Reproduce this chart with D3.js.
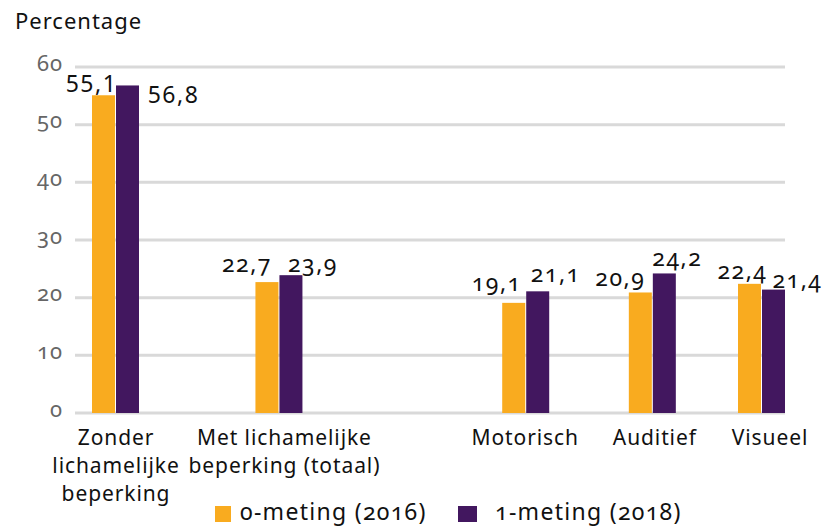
<!DOCTYPE html>
<html><head><meta charset="utf-8">
<script src="https://cdn.jsdelivr.net/npm/d3@7"></script>
<style>
body{margin:0;background:#fff;}
svg text{font-family:"Noto Sans","Open Sans",sans-serif !important;font-variant-numeric:oldstyle-nums;font-feature-settings:"onum" 1;}
svg text.lining{font-variant-numeric:lining-nums;font-feature-settings:"lnum" 1;}
</style></head><body>
<svg id="chart" width="824" height="526"></svg>
<script>
// ---- data ----
const categories = [
  ["Zonder","lichamelijke","beperking"],
  ["Met lichamelijke","beperking (totaal)"],
  ["Motorisch"],
  ["Auditief"],
  ["Visueel"]
];
const seriesNames = ["0-meting (2016)", "1-meting (2018)"];
const meting2016 = [55.1, 22.7, 19.1, 20.9, 22.4];
const meting2018 = [56.8, 23.9, 21.1, 24.2, 21.4];
const yTicks = [0, 10, 20, 30, 40, 50, 60];
const yTitle = "Percentage";

// ---- layout ----
const colors = ["#F9AB1F", "#42175F"];
const catSlot = [0, 2.53, 6.35, 8.31, 10];          // horizontal slot of each category group
const catLabelNudge = [1, 6, 0, 3, 9];
const valLabelNudge = [ // [dx, dy] relative to default label spot
  [[-12, 1], [46, 22]],
  [[-20, -6], [22, 1]],
  [[-17, -8], [18, -5]],
  [[-20, -2], [13, -3]],
  [[-7, -1], [24, 2]]
];
const barW = 23;

const svg = d3.select("#chart");
const y = d3.scaleLinear().domain([0, 60]).range([413, 67]);
const x = d3.scaleLinear().domain([0, 10]).range([115, 761]);
const fmt = v => String(v).replace(".", ",");

// gridlines
svg.append("g").selectAll("line").data(yTicks).join("line")
  .attr("x1", 75).attr("x2", 785)
  .attr("y1", d => y(d)).attr("y2", d => y(d))
  .attr("stroke", "#d9d9d9").attr("stroke-width", 3);

// y axis labels via d3 axis
const yAxis = d3.axisLeft(y).tickValues(yTicks).tickSize(0).tickPadding(0).tickFormat(d => d);
const ga = svg.append("g").attr("transform", "translate(63,0)").call(yAxis);
ga.select(".domain").remove();
ga.attr("font-size", 22);
ga.selectAll("text").attr("font-size", 22).attr("fill", "#666").attr("dy", "0.15em")
  .style("letter-spacing", "1px");

// title
svg.append("text").attr("x", 15).attr("y", 29).attr("font-size", 22).attr("fill", "#111")
  .style("letter-spacing", "1px").text(yTitle);

// bars
const series = [meting2016, meting2018];
series.forEach((vals, si) => {
  svg.append("g").selectAll("rect").data(vals).join("rect")
    .attr("x", (d, i) => si === 0 ? x(catSlot[i]) - barW : x(catSlot[i]) + 1)
    .attr("width", barW)
    .attr("y", d => y(d))
    .attr("height", d => y(0) - y(d))
    .attr("fill", colors[si]);
  svg.append("g").selectAll("text").data(vals).join("text")
    .attr("class", (d, i) => i === 0 ? "lining" : null)
    .attr("x", (d, i) => (si === 0 ? x(catSlot[i]) - barW / 2 : x(catSlot[i]) + 1 + barW / 2) + valLabelNudge[i][si][0])
    .attr("y", (d, i) => y(d) - 4 + valLabelNudge[i][si][1])
    .attr("text-anchor", "middle").attr("font-size", 23).attr("fill", "#111")
    .style("letter-spacing", "1.5px")
    .text(d => fmt(d));
});

// category labels
categories.forEach((lines, i) => {
  const t = svg.append("text").attr("text-anchor", "middle").attr("font-size", 21).attr("fill", "#111")
    .style("letter-spacing", "0.9px");
  lines.forEach((ln, k) => {
    t.append("tspan").attr("x", x(catSlot[i]) + catLabelNudge[i]).attr("y", 445 + k * 28).text(ln);
  });
});

// legend
const legX = [215, 458];
seriesNames.forEach((name, si) => {
  svg.append("rect").attr("x", legX[si]).attr("y", 506).attr("width", si ? 19 : 16).attr("height", 16).attr("fill", colors[si]);
  svg.append("text").attr("x", legX[si] + 25 + (si ? 12 : 0)).attr("y", 520).attr("font-size", 23).attr("fill", "#111")
    .style("letter-spacing", "1.3px").text(name);
});
</script>
</body></html>
